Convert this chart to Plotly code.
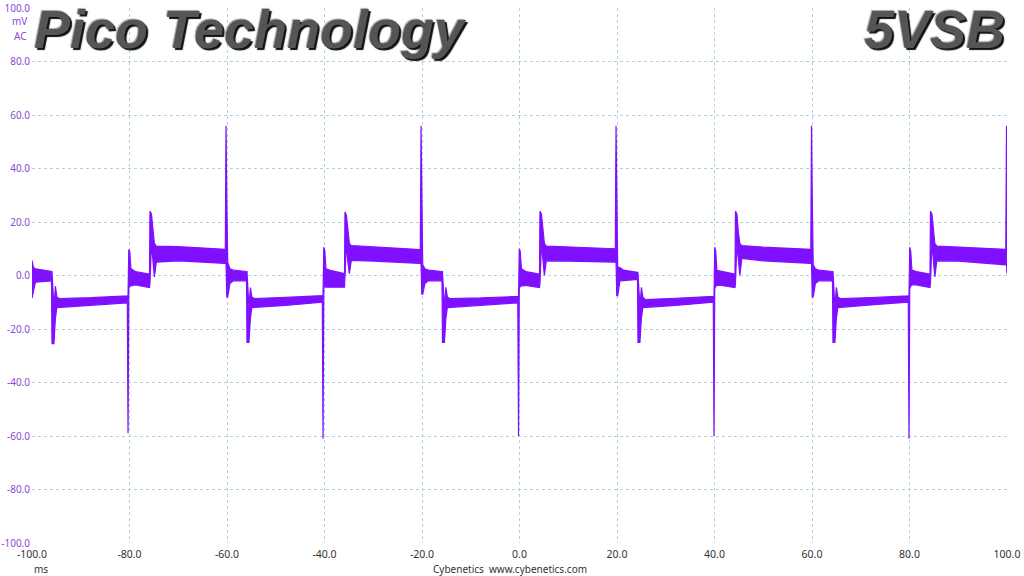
import plotly.graph_objects as go

# Time (ms), upper and lower envelope (mV) of the 5VSB ripple trace
t_ms = [
    -100.0, -99.7, -99.3, -96.0,
    -95.9, -95.5, -95.2, -94.9, -94.4, -88.0, -80.45,
    -80.3, -80.15, -79.95, -79.7, -78.8, -75.9,
    -75.8, -75.5, -75.2, -74.9, -74.5, -70.0, -60.35,
    -60.2, -60.05, -59.85, -59.4, -58.7, -56.0,
    -55.9, -55.5, -55.2, -54.9, -54.4, -48.0, -40.45,
    -40.3, -40.15, -39.95, -39.7, -38.8, -35.9,
    -35.8, -35.5, -35.2, -34.9, -34.5, -30.0, -20.35,
    -20.2, -20.05, -19.85, -19.4, -18.7, -15.9,
    -15.8, -15.4, -15.1, -14.8, -14.3, -8.0, -0.35,
    -0.2, -0.05, 0.15, 0.4, 1.3, 4.1,
    4.2, 4.5, 4.8, 5.1, 5.5, 10.0, 19.65,
    19.8, 19.95, 20.15, 20.6, 21.3, 24.2,
    24.3, 24.7, 25.0, 25.3, 25.8, 32.0, 39.75,
    39.9, 40.05, 40.25, 40.5, 41.4, 44.2,
    44.3, 44.6, 44.9, 45.2, 45.6, 50.0, 59.75,
    59.9, 60.05, 60.25, 60.7, 61.4, 64.2,
    64.3, 64.7, 65.0, 65.3, 65.8, 72.0, 79.75,
    79.9, 80.05, 80.25, 80.5, 81.4, 84.2,
    84.3, 84.6, 84.9, 85.2, 85.6, 90.0, 99.75,
    99.9, 100.0,
]
upper_mv = [
    5.6, 3.0, 2.5, 1.5,
    1.5, -12.0, -4.0, -8.0, -8.6, -8.3, -7.6,
    -7.6, 9.7, 9.0, 2.5, 1.5, 0.5,
    24.0, 23.0, 16.0, 12.0, 11.0, 10.8, 9.8,
    56.0, 30.0, 5.0, 2.5, 2.0, 1.5,
    1.5, -12.0, -4.5, -8.0, -8.6, -8.2, -7.5,
    -7.5, 10.6, 9.5, 2.5, 1.9, 0.7,
    23.7, 22.5, 16.0, 12.0, 11.2, 10.8, 9.7,
    56.0, 30.0, 4.0, 2.5, 2.0, 1.5,
    1.5, -12.0, -4.4, -8.0, -8.6, -8.4, -7.8,
    -7.8, 10.0, 9.0, 2.5, 1.5, 0.5,
    24.0, 23.0, 16.0, 12.0, 11.0, 10.6, 10.0,
    56.0, 30.0, 3.1, 3.0, 2.0, 1.2,
    1.2, -12.0, -4.4, -8.0, -9.0, -8.5, -7.8,
    -7.8, 10.6, 9.0, 1.9, 1.5, 0.5,
    24.0, 23.0, 16.0, 12.0, 11.2, 10.6, 9.8,
    56.0, 30.0, 4.0, 2.5, 2.0, 1.5,
    1.5, -12.0, -4.4, -8.0, -8.6, -8.3, -7.6,
    -7.6, 10.6, 9.0, 2.0, 1.5, 0.5,
    24.0, 23.0, 16.0, 12.0, 11.0, 10.6, 9.8,
    56.0, 30.0,
]
lower_mv = [
    -8.5, -6.0, -2.5, -2.0,
    -25.5, -25.5, -16.0, -12.0, -11.8, -11.2, -10.2,
    -59.0, -5.0, -4.0, -4.0, -3.5, -4.5,
    -3.0, 12.0, 5.0, -0.5, 5.0, 5.5, 4.5,
    4.5, -8.0, -8.0, -3.0, -2.0, -2.0,
    -25.0, -25.0, -16.0, -12.0, -12.0, -11.2, -10.0,
    -61.0, -5.0, -4.0, -4.4, -4.4, -4.4,
    -3.0, 12.0, 5.0, 0.7, 5.6, 5.4, 4.5,
    4.5, -7.0, -7.0, -3.0, -2.0, -2.0,
    -25.0, -25.0, -16.0, -12.0, -11.8, -11.2, -10.2,
    -60.0, -5.0, -4.0, -4.0, -3.7, -4.5,
    -3.0, 12.0, 5.0, 0.0, 5.5, 5.4, 5.0,
    5.0, -7.5, -7.5, -2.0, -1.9, -1.5,
    -25.0, -25.0, -16.0, -12.0, -11.8, -11.2, -10.0,
    -60.0, -5.0, -4.0, -3.7, -3.7, -4.5,
    -3.0, 12.0, 5.0, 0.0, 6.4, 5.5, 4.5,
    4.5, -8.0, -8.0, -3.0, -2.0, -2.0,
    -25.0, -25.0, -16.0, -12.0, -11.8, -11.0, -10.0,
    -61.0, -5.0, -4.0, -3.5, -3.5, -4.5,
    -3.0, 12.0, 5.0, -0.5, 5.5, 5.4, 4.0,
    4.0, 0.7,
]

x_ticks = [-100, -80, -60, -40, -20, 0, 20, 40, 60, 80, 100]
y_ticks = [-100, -80, -60, -40, -20, 0, 20, 40, 60, 80, 100]

TRACE = "#7f10ff"
PURPLE = "#8a4ad6"
GRID = "#a9d3de"

fig = go.Figure()
fig.add_trace(go.Scatter(
    x=t_ms + t_ms[::-1],
    y=upper_mv + lower_mv[::-1],
    mode="lines",
    fill="toself",
    fillcolor=TRACE,
    line=dict(color=TRACE, width=1.2),
    hoverinfo="skip",
    showlegend=False,
))

fig.update_layout(
    width=1024, height=576,
    margin=dict(l=32, r=17, t=8, b=33, autoexpand=False),
    paper_bgcolor="white", plot_bgcolor="white",
    showlegend=False,
    font=dict(family="Noto Sans", size=10),
)
fig.update_xaxes(
    range=[-100, 100], tickvals=x_ticks,
    ticktext=[f"{v:.1f}" for v in x_ticks],
    showgrid=True, gridcolor=GRID, griddash="dot", gridwidth=1,
    zeroline=False, showline=False, ticks="", automargin=False,
    tickfont=dict(color="#333333", size=10.5),
    ticklabelstandoff=3,
)
fig.update_yaxes(
    range=[-100, 100], tickvals=y_ticks,
    ticktext=[f"{v:.1f}" for v in y_ticks],
    showgrid=True, gridcolor=GRID, griddash="dot", gridwidth=1,
    zeroline=False, showline=False, ticks="", automargin=False,
    tickfont=dict(color=PURPLE, size=10),
    ticklabelstandoff=1,
)

title_font = dict(family="Liberation Sans", size=54, color="#555555",
                  weight="bold", style="italic",
                  shadow="2px 2px 1px #111111, -1px -1px 1px #a8a8a8")
fig.add_annotation(text="Pico Technology", xref="paper", yref="paper",
                   x=0.0, y=1.02, xanchor="left", yanchor="top",
                   showarrow=False, font=title_font)
fig.add_annotation(text="5VSB", xref="paper", yref="paper",
                   x=1.0, y=1.02, xanchor="right", yanchor="top",
                   showarrow=False, font=title_font)

fig.add_annotation(text="mV", xref="paper", yref="paper", x=-0.003, y=0.975,
                   xanchor="right", yanchor="middle", showarrow=False,
                   font=dict(color=PURPLE, size=10))
fig.add_annotation(text="AC", xref="paper", yref="paper", x=-0.003, y=0.947,
                   xanchor="right", yanchor="middle", showarrow=False,
                   font=dict(color=PURPLE, size=10))
fig.add_annotation(text="ms", xref="paper", yref="paper", x=0.0, y=-0.048,
                   xanchor="left", yanchor="middle", showarrow=False,
                   font=dict(color="#333333", size=10))
fig.add_annotation(text="Cybenetics&nbsp;&nbsp;www.cybenetics.com",
                   xref="paper", yref="paper", x=0.49, y=-0.048,
                   xanchor="center", yanchor="middle", showarrow=False,
                   font=dict(color="#333333", size=10))

fig.write_html("out.html", config={"displayModeBar": False},
               post_script="document.body.style.margin='0px';")
